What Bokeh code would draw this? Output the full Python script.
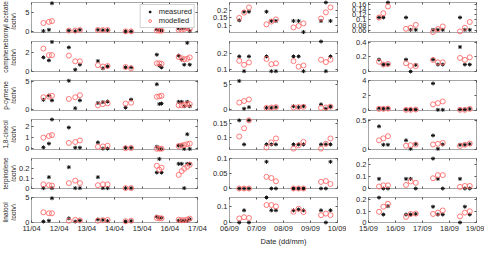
import math
from bokeh.plotting import figure
from bokeh.layouts import gridplot, row as brow
from bokeh.models import (Range1d, FixedTicker, LinearAxis, Legend, LegendItem,
                          CustomJSTickFormatter)
from bokeh.core.properties import value
from bokeh.embed import file_html
from bokeh.resources import INLINE

# ---------------- data ----------------
compounds = ["bornyl acetate", "camphene", "p-cymene", "1,8-cineol", "terpinolene", "linalool"]
unit_label = "(pptv)"

# April campaign (time in day of month)
apr_time = [11.43, 11.63, 11.74, 12.35, 12.58, 12.75, 13.40, 13.58, 13.75, 14.40, 14.60,
            15.53, 15.62, 15.70, 16.32, 16.43, 16.52, 16.63, 16.72]
apr_ticks = [11, 12, 13, 14, 15, 16, 17]
apr_labels = ["11/04", "12/04", "13/04", "14/04", "15/04", "16/04", "17/04"]

apr_bornyl_meas = [0.2, 0.5, 7.5, 0.3, 0.15, 0.5, 0.5, 0.4, 0.4, 0.1, 0.1, 0.6, 0.4, 0.3, 0.9, 0.9, 1.0, 1.2, 0.2]
apr_bornyl_mod = [2.3, 2.6, 2.8, 0.3, 0.3, 0.45, 0.45, 0.45, 0.45, 0.1, 0.1, 0.3, 0.3, 0.3, 0.55, 0.55, 0.75, 1.0, 0.75]
apr_camphene_meas = [1.5, 1.17, 3.2, 2.6, 0.15, 0.7, 1.1, 0.3, 0.5, 0.4, 0.4, 1.8, 0.6, 0.4, 1.7, 1.25, 0.7, 3.1, 0.7]
apr_camphene_mod = [2.47, 1.75, 1.75, 1.7, 1.07, 1.07, 0.65, 0.5, 0.55, 0.45, 0.3, 0.85, 0.85, 0.8, 1.55, 1.4, 1.3, 1.35, 1.5]
apr_pcymene_meas = [1.75, 2.5, 1.65, 5.05, 0.3, 1.65, 1.2, 1.35, 1.45, 0.4, 1.8, 4.45, 1.03, 1.1, 1.4, 1.4, 0.65, 1.4, 0.65]
apr_pcymene_mod = [2.2, 2.3, 2.45, 1.9, 2.2, 2.55, 0.8, 1.0, 1.15, 1.1, 1.25, 2.28, 2.35, 2.45, 0.8, 0.8, 0.9, 1.0, 1.0]
apr_cineol_meas = [0.14, 0.47, 2.6, 1.89, 0.11, 0.11, 0.58, 0.03, 0.03, 0.11, 0.11, 0.19, 0.0, 0.0, 0.3, 0.3, 0.0, 1.3, 0.0]
apr_cineol_mod = [1.0, 1.14, 1.22, 0.53, 0.61, 0.75, 0.19, 0.22, 0.28, 0.06, 0.08, 0.02, 0.02, 0.02, 0.25, 0.3, 0.35, 0.42, 0.47]
apr_terpinolene_meas = [0.0, 0.113, 0.0, 0.216, 0.0, 0.0, 0.113, 0.0, 0.0, 0.0, 0.0, 0.16, 0.30, 0.16, 0.25, 0.25, 0.0, 0.25, 0.25]
apr_terpinolene_mod = [0.039, 0.03, 0.026, 0.052, 0.077, 0.052, 0.03, 0.039, 0.039, 0.0, 0.0, 0.23, 0.19, 0.21, 0.136, 0.175, 0.2, 0.22, 0.24]
apr_linalool_meas = [0.1, 0.27, 4.9, 0.75, 0.1, 0.3, 0.53, 0.43, 0.2, 0.1, 0.2, 1.1, 0.85, 0.85, 0.26, 0.26, 0.26, 0.26, 0.57]
apr_linalool_mod = [2.0, 1.8, 1.8, 0.27, 0.43, 0.32, 0.27, 0.37, 0.43, 0.16, 0.27, 0.85, 0.75, 0.75, 0.48, 0.37, 0.37, 0.48, 0.7]

# early September campaign
sep1_time = [6.36, 6.54, 6.72, 7.37, 7.55, 7.72, 8.37, 8.56, 8.74, 9.39, 9.57, 9.74]
sep1_ticks = [6, 7, 8, 9, 10]
sep1_labels = ["06/09", "07/09", "08/09", "09/09", "10/09"]

sep1_bornyl_meas = [0.134, 0.19, 0.19, 0.19, 0.13, 0.13, 0.13, 0.13, 0.058, 0.13, 0.25, 0.13]
sep1_bornyl_mod = [0.15, 0.184, 0.218, 0.108, 0.126, 0.14, 0.088, 0.098, 0.114, 0.146, 0.186, 0.218]
sep1_camphene_meas = [0.183, 0.092, 0.183, 0.183, 0.092, 0.092, 0.183, 0.183, 0.092, 0.275, 0.092, 0.183]
sep1_camphene_mod = [0.156, 0.131, 0.146, 0.167, 0.135, 0.14, 0.154, 0.12, 0.127, 0.163, 0.148, 0.163]
sep1_pcymene_meas = [5.6, 0.2, 0.5, 0.37, 0.37, 0.5, 0.68, 0.5, 0.68, 1.05, 0.2, 0.6]
sep1_pcymene_mod = [1.4, 1.7, 2.0, 0.37, 0.43, 0.5, 0.43, 0.5, 0.55, 0.37, 0.43, 0.6]
sep1_cineol_meas = [0.162, 0.077, 0.162, 0.077, 0.077, 0.077, 0.077, 0.077, 0.077, 0.077, 0.077, 0.077]
sep1_cineol_mod = [0.105, 0.134, 0.162, 0.066, 0.084, 0.098, 0.062, 0.074, 0.086, 0.062, 0.079, 0.098]
sep1_terpinolene_meas = [0.0, 0.0, 0.0, 0.089, 0.0, 0.0, 0.0, 0.0, 0.0, 0.0, 0.0, 0.089]
sep1_terpinolene_mod = [0.0, 0.0, 0.0, 0.039, 0.035, 0.024, 0.0, 0.0, 0.0, 0.022, 0.025, 0.015]
sep1_linalool_meas = [0.0, 0.078, 0.0, 0.16, 0.078, 0.078, 0.078, 0.083, 0.078, 0.078, 0.0, 0.078]
sep1_linalool_mod = [0.026, 0.034, 0.029, 0.112, 0.112, 0.103, 0.069, 0.088, 0.067, 0.047, 0.057, 0.047]

# mid September campaign
sep2_time = [15.39, 15.55, 15.72, 16.39, 16.56, 16.75, 17.39, 17.57, 17.75, 18.39, 18.57, 18.75]
sep2_ticks = [15, 16, 17, 18, 19]
sep2_labels = ["15/09", "16/09", "17/09", "18/09", "19/09"]

sep2_bornyl_meas = [0.109, 0.109, 0.166, 0.109, 0.062, 0.062, 0.062, 0.062, 0.062, 0.109, 0.062, 0.062]
sep2_bornyl_mod = [0.109, 0.125, 0.151, 0.066, 0.07, 0.081, 0.054, 0.065, 0.075, 0.056, 0.07, 0.092]
sep2_camphene_meas = [0.163, 0.095, 0.095, 0.163, 0.0, 0.09, 0.163, 0.095, 0.095, 0.335, 0.095, 0.095]
sep2_camphene_mod = [0.133, 0.095, 0.103, 0.112, 0.077, 0.073, 0.159, 0.125, 0.125, 0.185, 0.159, 0.194]
sep2_pcymene_meas = [0.3, 0.26, 0.3, 0.13, 0.13, 0.13, 3.65, 0.09, 0.09, 0.13, 0.13, 0.22]
sep2_pcymene_mod = [0.22, 0.22, 0.26, 0.09, 0.09, 0.13, 0.83, 1.0, 1.22, 0.09, 0.09, 0.22]
sep2_cineol_meas = [0.4, 0.078, 0.078, 0.156, 0.006, 0.09, 0.24, 0.006, 0.083, 0.078, 0.078, 0.09]
sep2_cineol_mod = [0.156, 0.19, 0.228, 0.061, 0.072, 0.083, 0.083, 0.094, 0.111, 0.056, 0.078, 0.1]
sep2_terpinolene_meas = [0.079, 0.0, 0.0, 0.079, 0.079, 0.0, 0.245, 0.079, 0.0, 0.079, 0.0, 0.0]
sep2_terpinolene_mod = [0.016, 0.026, 0.026, 0.029, 0.058, 0.047, 0.084, 0.11, 0.11, 0.013, 0.021, 0.021]
sep2_linalool_meas = [0.219, 0.07, 0.144, 0.07, 0.07, 0.075, 0.139, 0.07, 0.07, 0.0, 0.139, 0.07]
sep2_linalool_mod = [0.094, 0.139, 0.165, 0.049, 0.075, 0.078, 0.075, 0.087, 0.106, 0.054, 0.087, 0.099]

# ---------------- assembly ----------------
periods = [
    dict(t=apr_time, ticks=apr_ticks, labels=apr_labels, xr=(11, 17),
         meas=[apr_bornyl_meas, apr_camphene_meas, apr_pcymene_meas, apr_cineol_meas,
               apr_terpinolene_meas, apr_linalool_meas],
         mod=[apr_bornyl_mod, apr_camphene_mod, apr_pcymene_mod, apr_cineol_mod,
              apr_terpinolene_mod, apr_linalool_mod]),
    dict(t=sep1_time, ticks=sep1_ticks, labels=sep1_labels, xr=(6, 10),
         meas=[sep1_bornyl_meas, sep1_camphene_meas, sep1_pcymene_meas, sep1_cineol_meas,
               sep1_terpinolene_meas, sep1_linalool_meas],
         mod=[sep1_bornyl_mod, sep1_camphene_mod, sep1_pcymene_mod, sep1_cineol_mod,
              sep1_terpinolene_mod, sep1_linalool_mod]),
    dict(t=sep2_time, ticks=sep2_ticks, labels=sep2_labels, xr=(15, 19),
         meas=[sep2_bornyl_meas, sep2_camphene_meas, sep2_pcymene_meas, sep2_cineol_meas,
               sep2_terpinolene_meas, sep2_linalool_meas],
         mod=[sep2_bornyl_mod, sep2_camphene_mod, sep2_pcymene_mod, sep2_cineol_mod,
              sep2_terpinolene_mod, sep2_linalool_mod]),
]

# axis limits and y ticks per column / row (styling)
y_ranges = [
    [(-0.2, 7.7), (-0.05, 3.25), (-0.1, 5.1), (-0.05, 2.6), (-0.004, 0.305), (-0.1, 5.05)],
    [(0.055, 0.25), (0.09, 0.275), (-0.15, 5.7), (0.059, 0.165), (0.0, 0.1), (0.0, 0.16)],
    [(0.052, 0.166), (0.0, 0.41), (0.0, 4.05), (-0.005, 0.52), (0.0, 0.246), (0.0, 0.22)],
]
y_ticks = [
    [[0, 5], [0, 2], [0, 5], [0, 1, 2], [0, 0.1, 0.2], [0, 5]],
    [[0.1, 0.15, 0.2], [0.1, 0.2], [0, 5], [0.1, 0.15], [0, 0.05, 0.1], [0, 0.1]],
    [[0.06, 0.08, 0.1, 0.12, 0.14, 0.16], [0, 0.2, 0.4], [0, 2, 4], [0, 0.5], [0, 0.1, 0.2], [0, 0.1, 0.2]],
]

AX = "#a6a6a6"
TXT = "#262626"
FONT = "Liberation Sans"
FS = "7.5px"
RED = "#ff6b6b"
FRAME_H = 30
TOP0, TOP, BOT, BOT_LAST = 2, 4, 5, 21
LABEL_W = 16
# (width, min_border_left, min_border_right)
col_geom = [(191, 13, 10), (139, 22, 9), (138, 22, 8)]

fmt = CustomJSTickFormatter(code="return Number(tick.toFixed(6)).toString();")


def style_axis(a):
    a.axis_line_color = None
    a.major_tick_line_color = "#555555"
    a.major_tick_in = 2
    a.major_tick_out = 0
    a.minor_tick_line_color = None
    a.major_label_text_font = FONT
    a.major_label_text_font_size = FS
    a.major_label_text_color = TXT
    a.major_label_standoff = 2
    a.axis_label_text_font = FONT
    a.axis_label_text_font_size = FS
    a.axis_label_text_font_style = "normal"
    a.axis_label_text_color = TXT
    a.axis_label_standoff = 1


def hide_labels(a):
    a.major_label_text_font_size = "0px"
    a.major_label_text_color = None
    a.major_label_standoff = 0


def tick_only_axis(ticks):
    a = LinearAxis(ticker=FixedTicker(ticks=ticks))
    style_axis(a)
    hide_labels(a)
    return a


rows = []
row_heights = []
for ri in range(6):
    row = []
    top = TOP0 if ri == 0 else TOP
    bottom = BOT_LAST if ri == 5 else BOT
    h = top + FRAME_H + bottom
    row_heights.append((top, h))
    for ci in range(3):
        per = periods[ci]
        w, bl, br = col_geom[ci]
        p = figure(width=w, height=h, x_range=Range1d(*per["xr"]),
                   y_range=Range1d(*y_ranges[ci][ri]), output_backend="svg",
                   toolbar_location=None, tools="",
                   min_border_left=bl, min_border_right=br,
                   min_border_top=top, min_border_bottom=bottom)
        p.xgrid.visible = False
        p.ygrid.visible = False
        p.outline_line_color = AX
        p.outline_line_width = 1
        p.background_fill_color = "white"
        p.border_fill_color = "white"

        xa = p.xaxis[0]
        style_axis(xa)
        xa.ticker = FixedTicker(ticks=per["ticks"])
        if ri == 5:
            xa.major_label_overrides = dict(zip(per["ticks"], per["labels"]))
            xa.major_label_standoff = 1
            if ci == 1:
                xa.axis_label = "Date (dd/mm)"
        else:
            hide_labels(xa)

        ya = p.yaxis[0]
        style_axis(ya)
        ya.ticker = FixedTicker(ticks=y_ticks[ci][ri])
        ya.formatter = fmt

        p.add_layout(tick_only_axis(per["ticks"]), "above")
        p.add_layout(tick_only_axis(y_ticks[ci][ri]), "right")

        r_meas = p.scatter(per["t"], per["meas"][ri], marker="asterisk", size=4,
                           line_color="#111111", line_width=1, level="overlay")
        r_mod = p.scatter(per["t"], per["mod"][ri], marker="circle", size=5,
                          fill_color=None, line_color=RED, line_width=0.9, level="overlay")

        if ri == 0 and ci == 0:
            leg = Legend(items=[LegendItem(label="measured", renderers=[r_meas]),
                                LegendItem(label="modelled", renderers=[r_mod])],
                         location="top_right", margin=2, padding=2, spacing=0,
                         glyph_width=14, glyph_height=7, label_height=7,
                         label_standoff=2, label_text_font=FONT,
                         label_text_font_size=FS, label_text_color=TXT,
                         border_line_color=AX, border_line_width=1,
                         background_fill_color="white", background_fill_alpha=1)
            p.add_layout(leg)
        row.append(p)
    rows.append(row)

grid = gridplot(rows, toolbar_location=None)

# y-axis labels column (compound name + unit), centred on each row's frame
total_h = sum(h for _, h in row_heights)
centers = []
acc = 0
for top, h in row_heights:
    centers.append(acc + top + FRAME_H / 2)
    acc += h
centers[0] += 4   # keep the long first label inside the page
centers[1] += 1

lab = figure(width=LABEL_W, height=total_h, x_range=Range1d(0, LABEL_W),
             y_range=Range1d(total_h, 0), output_backend="svg",
             toolbar_location=None, tools="", min_border=0)
lab.axis.visible = False
lab.grid.visible = False
lab.outline_line_color = None
lab.background_fill_color = "white"
lab.border_fill_color = "white"
lab.text(x=[4.5] * 6, y=centers, text=compounds, angle=math.pi / 2,
         text_align="center", text_baseline="middle", text_font=value(FONT),
         text_font_size="6.5px", text_color=TXT)
lab.text(x=[12.5] * 6, y=centers, text=[unit_label] * 6, angle=math.pi / 2,
         text_align="center", text_baseline="middle", text_font=value(FONT),
         text_font_size="6.5px", text_color=TXT)

layout = brow(lab, grid)

open("out.html", "w").write(file_html(layout, INLINE))
